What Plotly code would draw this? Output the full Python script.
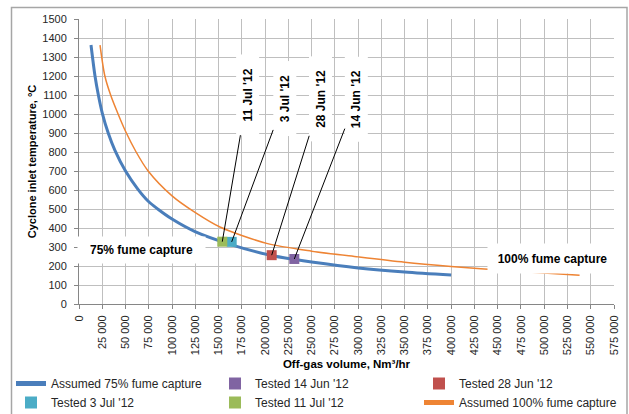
import plotly.graph_objects as go

# ---- data ----
vol_75 = [12900, 17200, 20800, 25000, 31400, 38500, 50000, 63200, 75000,
          84600, 100000, 124700, 165000, 207000, 231000, 250000, 300000,
          350000, 400000]
temp_75 = [1363, 1200, 1100, 1005, 900, 810, 700, 605, 538,
           500, 447, 381, 310, 255, 235, 221, 190,
           168, 152]

vol_100 = [22600, 27800, 34000, 42000, 50000, 61400, 74300, 100000, 124700,
           151500, 201700, 250000, 300000, 350000, 400000, 460000, 538000]
temp_100 = [1363, 1200, 1100, 1000, 909, 800, 700, 569, 482,
            405, 319, 278, 248, 220, 198, 176, 151]

test_names = ["Tested 14 Jun '12", "Tested 28 Jun '12", "Tested 3 Jul '12", "Tested 11 Jul '12"]
test_labels = ["14 Jun '12", "28 Jun '12", "3 Jul '12", "11 Jul '12"]
test_vol = [231400, 207100, 164100, 154000]
test_temp = [237, 257, 327, 328]
test_colors = ["#8064A2", "#C0504D", "#4BACC6", "#9BBB59"]

x_ticks = list(range(0, 575001, 25000))

FONT = "Liberation Sans, Arial, sans-serif"

fig = go.Figure()

fig.add_trace(go.Scatter(
    x=vol_75, y=temp_75, mode="lines", name="Assumed 75% fume capture",
    line=dict(color="#4A7EBB", width=3, shape="spline", smoothing=0.8),
    legendrank=1))
fig.add_trace(go.Scatter(
    x=vol_100, y=temp_100, mode="lines", name="Assumed 100% fume capture",
    line=dict(color="#EE8434", width=1.5, shape="spline", smoothing=0.8),
    legendrank=6))

for i, (nm, v, t, c) in enumerate(zip(test_names, test_vol, test_temp, test_colors)):
    fig.add_trace(go.Scatter(
        x=[v], y=[t], mode="markers", name=nm,
        marker=dict(symbol="square", size=10, color=c),
        legendrank=2 + i))

# rotated date labels with leader lines
offsets = {"14 Jun '12": (62, -160, 82), "28 Jun '12": (49, -156, 82),
           "3 Jul '12": (53, -143, 72), "11 Jul '12": (25, -147, 78)}
for lab, v, t in zip(test_labels, test_vol, test_temp):
    ax, ay, w = offsets[lab]
    fig.add_annotation(
        x=v, y=t, xref="x", yref="y", text=lab, textangle=-90,
        font=dict(family=FONT, size=12, color="#000000", weight="bold"),
        bgcolor="#FFFFFF", width=w, height=20,
        showarrow=True, arrowhead=0, arrowwidth=1, arrowcolor="#000000",
        ax=ax, ay=ay, standoff=0)

fig.add_annotation(x=67700, y=284, xref="x", yref="y", text="75% fume capture",
                   showarrow=False, bgcolor="#FFFFFF", width=125, height=24,
                   font=dict(family=FONT, size=12, color="#000000", weight="bold"))
fig.add_annotation(x=509000, y=239, xref="x", yref="y", text="100% fume capture",
                   showarrow=False, bgcolor="#FFFFFF", width=127, height=27,
                   font=dict(family=FONT, size=12, color="#000000", weight="bold"))

# chart-area border
fig.add_shape(type="rect", xref="paper", yref="paper",
              x0=(11.5 - 79) / 535, x1=(627 - 79) / 535,
              y0=(304 - 430) / 285, y1=(304 - 7.5) / 285,
              line=dict(color="#A6A6A6", width=1.5), layer="below")

fig.update_layout(
    width=629, height=414,
    margin=dict(l=79, r=15, t=19, b=110, autoexpand=False),
    paper_bgcolor="#FFFFFF", plot_bgcolor="#FFFFFF",
    separators=". ",
    font=dict(family=FONT, size=11, color="#262626"),
    showlegend=True,
    legend=dict(orientation="h", xref="paper", yref="paper",
                x=(11 - 79) / 535, y=(304 - 369) / 285, xanchor="left", yanchor="top",
                entrywidth=159, entrywidthmode="pixels",
                font=dict(family=FONT, size=12, color="#262626"),
                bgcolor="rgba(0,0,0,0)", traceorder="normal", itemsizing="constant"),
    xaxis=dict(range=[0, 575000], tickmode="array", tickvals=x_ticks,
               tickformat=",d", tickangle=-90, automargin=False,
               showgrid=True, gridcolor="#BFBFBF", gridwidth=1,
               showline=True, linecolor="#868686", linewidth=1,
               ticks="outside", ticklen=4, tickcolor="#868686",
               ticklabelstandoff=2, zeroline=False,
               tickfont=dict(family=FONT, size=11, color="#262626"),
               title=dict(text="Off-gas volume, Nm³/hr", standoff=5,
                          font=dict(family=FONT, size=11.5, color="#000000", weight="bold"))),
    yaxis=dict(range=[0, 1500], dtick=100, tick0=0, automargin=False,
               showgrid=True, gridcolor="#BFBFBF", gridwidth=1,
               showline=True, linecolor="#868686", linewidth=1,
               ticks="outside", ticklen=4, tickcolor="#868686",
               ticklabelstandoff=5, zeroline=False,
               tickfont=dict(family=FONT, size=11, color="#262626"),
               title=dict(text="Cyclone inlet temperature, °C", standoff=3,
                          font=dict(family=FONT, size=11, color="#000000", weight="bold"))),
)

fig.write_html("out.html")
